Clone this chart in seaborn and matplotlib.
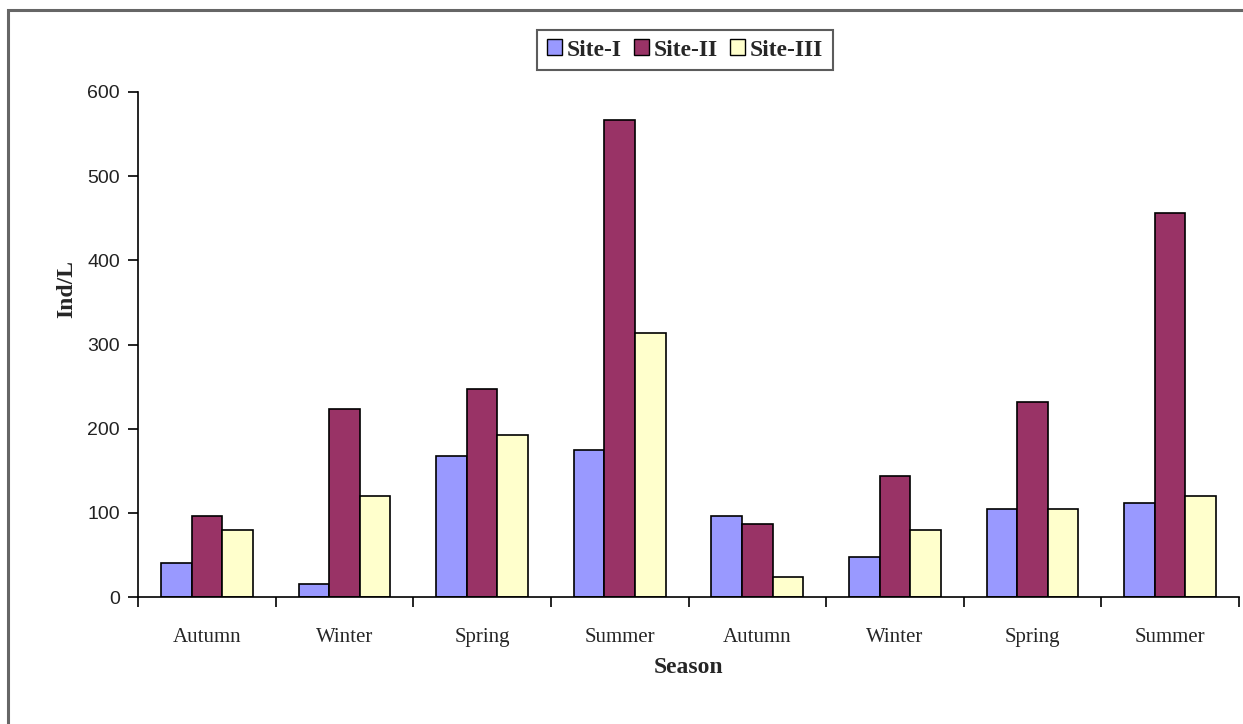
import matplotlib
matplotlib.use("Agg")
import matplotlib.pyplot as plt
import matplotlib.patches as mpatches
import seaborn as sns
import pandas as pd
import numpy as np

# Seasonal zooplankton density (Ind/L) at three sites over two years
seasons = ["Autumn", "Winter", "Spring", "Summer", "Autumn", "Winter", "Spring", "Summer"]
sites = ["Site-I", "Site-II", "Site-III"]
site_1 = [40, 16, 168, 175, 96, 48, 104, 112]
site_2 = [96, 223, 247, 567, 87, 144, 232, 456]
site_3 = [80, 120, 192, 314, 24, 80, 104, 120]
colors = ["#9999FF", "#993366", "#FFFFCC"]
y_ticks = [0, 100, 200, 300, 400, 500, 600]

rows = []
for i, s in enumerate(seasons):
    for site, vals in zip(sites, [site_1, site_2, site_3]):
        rows.append({"pos": i, "season": s, "site": site, "value": vals[i]})
df = pd.DataFrame(rows)

sns.set_style("white")
W, H = 1243, 724
fig = plt.figure(figsize=(W / 100, H / 100), dpi=100)
ax = fig.add_axes([138 / W, (H - 597) / H, (1239 - 138) / W, (597 - 92) / H])

sns.barplot(data=df, x="pos", y="value", hue="site", hue_order=sites,
            palette=colors, width=3 / 4.5, edgecolor="black", linewidth=1.2,
            saturation=1, errorbar=None, ax=ax, legend=False)

ax.set_xlim(-0.5, len(seasons) - 0.5)
ax.set_ylim(0, 600)

serif = "Liberation Serif"
ax.set_xticks(range(len(seasons)))
ax.set_xticklabels(seasons, fontfamily=serif, fontsize=15)
ax.tick_params(axis="x", which="major", bottom=True, length=0, pad=22)
ax.set_xticks(np.arange(-0.5, len(seasons), 1.0), minor=True)
ax.tick_params(axis="x", which="minor", bottom=True, length=7, width=1.2,
               direction="out", color="black")

ax.set_yticks(y_ticks)
ax.set_yticklabels([str(t) for t in y_ticks], fontfamily="Liberation Sans", fontsize=14, color="#222222")
ax.tick_params(axis="y", left=True, length=7, width=1.2, direction="out", color="black", pad=6)

for side in ["top", "right"]:
    ax.spines[side].set_visible(False)
for side in ["left", "bottom"]:
    ax.spines[side].set_color("black")
    ax.spines[side].set_linewidth(1.2)

ax.set_xlabel("Season", fontfamily=serif, fontweight="bold", fontsize=17)
ax.xaxis.set_label_coords(0.5, -(657 - 597) / 505, transform=ax.transAxes)
ax.set_ylabel("Ind/L", fontfamily=serif, fontweight="bold", fontsize=17)
ax.yaxis.set_label_coords(-(138 - 77) / 1101, 0.61)

handles = [mpatches.Patch(facecolor=c, edgecolor="black", linewidth=1, label=s)
           for c, s in zip(colors, sites)]
leg = fig.legend(handles=handles, loc="center", bbox_to_anchor=(685 / W, 1 - 50 / H),
                 ncol=3, frameon=True, fancybox=False, handlelength=0.65, handleheight=0.65,
                 handletextpad=0.2, columnspacing=0.5, borderpad=0.4,
                 prop={"family": serif, "weight": "bold", "size": 17})
leg.get_frame().set_edgecolor("#333333")
leg.get_frame().set_linewidth(1.5)

# outer chart frame (open on the right and bottom edges)
frame = mpatches.Rectangle((8 / W, -0.1), 1.2, (1 - 10 / H) + 0.1, transform=fig.transFigure,
                           fill=False, edgecolor="#666666", linewidth=2.2)
fig.patches.append(frame)

fig.savefig("out.png", dpi=100, facecolor="white")
